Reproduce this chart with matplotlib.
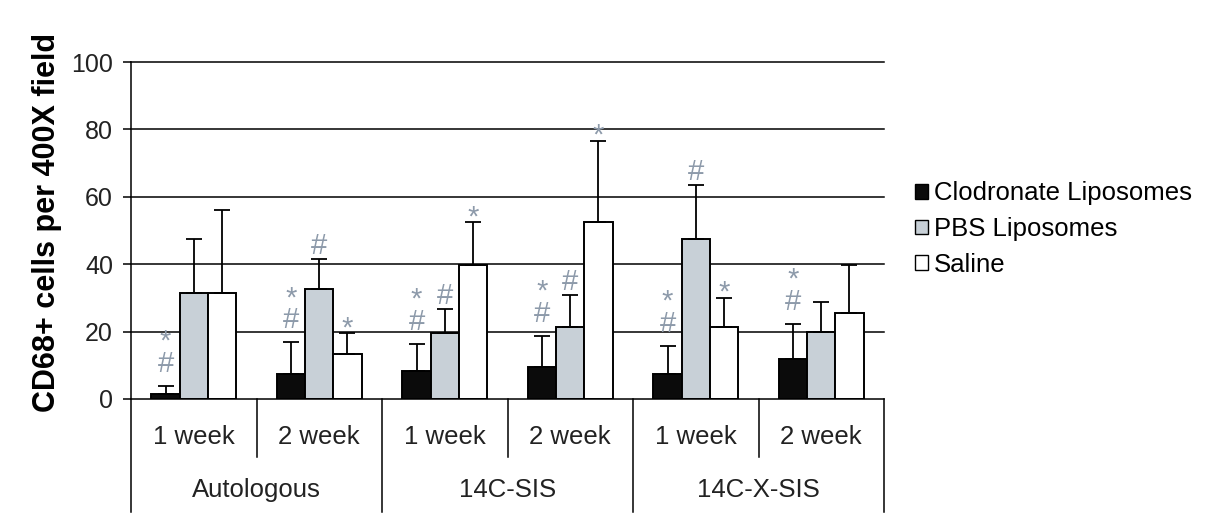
import matplotlib
matplotlib.use("Agg")
import matplotlib.pyplot as plt
from matplotlib.patches import Patch
import numpy as np

plt.rcParams['font.family'] = ['Liberation Sans', 'DejaVu Sans']

# ---- data -------------------------------------------------------------
materials = ["Autologous", "14C-SIS", "14C-X-SIS"]
timepoints = ["1 week", "2 week"]
series_names = ["Clodronate Liposomes", "PBS Liposomes", "Saline"]

clodronate_mean = [1.4, 7.5, 8.4, 9.4, 7.4, 12.0]
clodronate_sd = [2.5, 9.3, 7.9, 9.4, 8.4, 10.3]
pbs_mean = [31.4, 32.6, 19.5, 21.3, 47.5, 19.8]
pbs_sd = [16.0, 8.9, 7.3, 9.6, 15.9, 9.1]
saline_mean = [31.4, 13.4, 39.9, 52.4, 21.3, 25.4]
saline_sd = [24.6, 6.1, 12.5, 24.1, 8.6, 14.5]

# significance marks above each bar ("*" stacked over "#" where both apply)
clodronate_marks = ["*#", "*#", "*#", "*#", "*#", "*#"]
pbs_marks = ["", "#", "#", "#", "#", ""]
saline_marks = ["", "*", "*", "*", "*", ""]

yticks = [0, 20, 40, 60, 80, 100]

# ---- styling ----------------------------------------------------------
colors = ["#0b0b0b", "#c8d0d7", "#ffffff"]
mark_color = "#8d9aaa"
mark_size = 21
offsets = [-0.225, 0.0, 0.225]
bar_w = 0.225
W, H = 1207, 526

fig = plt.figure(figsize=(W / 100, H / 100), dpi=100)
ax = fig.add_axes([131 / W, 1 - 399 / H, 753 / W, 337 / H])

n_groups = len(materials) * len(timepoints)
centers = np.arange(n_groups) + 0.5

means = [clodronate_mean, pbs_mean, saline_mean]
sds = [clodronate_sd, pbs_sd, saline_sd]
marks = [clodronate_marks, pbs_marks, saline_marks]

for s in range(3):
    xs = centers + offsets[s]
    ax.bar(xs, means[s], width=bar_w, color=colors[s], edgecolor="black",
           linewidth=1.4, zorder=2, label=series_names[s])
    ax.errorbar(xs, means[s], yerr=[np.zeros(n_groups), sds[s]], fmt="none",
                ecolor="black", elinewidth=1.3, capsize=6, capthick=1.3, zorder=3)
    for x, m, sd, mk in zip(xs, means[s], sds[s], marks[s]):
        top = m + sd
        if mk == "*#":
            ax.annotate("*\n#", (x, top), xytext=(0, 5.8), textcoords="offset points",
                        ha="center", va="bottom", linespacing=0.73,
                        fontsize=mark_size, color=mark_color)
        elif mk == "#":
            ax.annotate("#", (x, top), xytext=(0, 3.6), textcoords="offset points",
                        ha="center", va="baseline", fontsize=mark_size, color=mark_color)
        elif mk == "*":
            ax.annotate("*", (x, top), xytext=(0, -2), textcoords="offset points",
                        ha="center", va="baseline", fontsize=mark_size, color=mark_color)

# horizontal grid lines
for yt in yticks[1:]:
    ax.axhline(yt, color="black", linewidth=1.1, zorder=0, clip_on=False)

ax.set_xlim(0, n_groups)
ax.set_ylim(0, 100)
ax.set_yticks(yticks)
ax.set_xticks([])
ax.tick_params(axis="y", length=6, width=1.1, pad=7, labelsize=18, labelcolor="#222222")
for side in ("top", "right"):
    ax.spines[side].set_visible(False)
for side in ("left", "bottom"):
    ax.spines[side].set_linewidth(1.1)

# category table below the axis
for xd in [1, 3, 5]:
    ax.plot([xd, xd], [0, -17.2], color="black", lw=1.1, clip_on=False)
for xd in [0, 2, 4, 6]:
    ax.plot([xd, xd], [0, -33.5], color="black", lw=1.1, clip_on=False)
for i, c in enumerate(centers):
    ax.text(c, -11.3, timepoints[i % 2], ha="center", va="center", fontsize=18.5,
            color="#222222", clip_on=False)
for j, mat in enumerate(materials):
    ax.text(2 * j + 1, -27.0, mat, ha="center", va="center", fontsize=18.5,
            color="#222222", clip_on=False)

ax.set_ylabel("CD68+ cells per 400X field", fontsize=22, fontweight="bold")
ax.yaxis.set_label_coords(-0.0916, 0.525)

handles = [Patch(facecolor=c, edgecolor="black", linewidth=1) for c in colors]
fig.legend(handles, series_names, loc="center left",
           bbox_to_anchor=(915 / W, 1 - 229 / H), frameon=False, fontsize=18.5,
           handlelength=0.5, handleheight=0.5, handletextpad=0.25,
           labelspacing=0.45, borderpad=0, borderaxespad=0)

fig.savefig("out.png", dpi=100, facecolor="white")
